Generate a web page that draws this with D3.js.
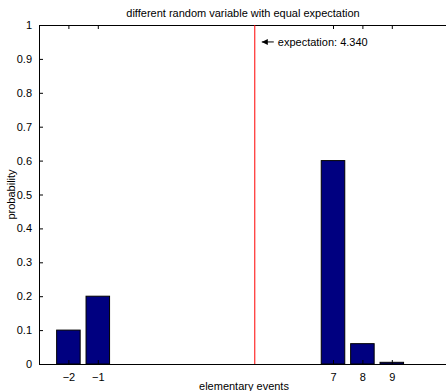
<!DOCTYPE html>
<html>
<head>
<meta charset="utf-8">
<title>different random variable with equal expectation</title>
<style>
  body { margin: 0; background: #fff; }
  text { font-family: "Liberation Sans", Arial, sans-serif; }
</style>
</head>
<body>
<script src="https://cdn.jsdelivr.net/npm/d3@7"></script>
<script>
// data
var events = [-2, -1, 7, 8, 9];
var probs  = [0.1, 0.2, 0.6, 0.06, 0.005];
var yTicks = [0, 0.1, 0.2, 0.3, 0.4, 0.5, 0.6, 0.7, 0.8, 0.9, 1];
var expectation = 4.34;

var margin = {top: 25, left: 39},
    width  = 411.6,
    height = 339;

var svg = d3.select("body").append("svg")
    .attr("width", 446)
    .attr("height", 391);

var chart = svg.append("g")
    .attr("transform", "translate(" + margin.left + "," + margin.top + ")");

var x = d3.scaleLinear().domain([-3, 11]).range([0, width]);
var y = d3.scaleLinear().domain([0, 1]).range([height, 0]);
var barW = x(0.8) - x(0);

// bars
chart.selectAll("rect.bar")
    .data(events)
    .enter().append("rect")
    .attr("class", "bar")
    .attr("x", function(d) { return x(d) - barW / 2; })
    .attr("y", function(d, i) { return y(probs[i]); })
    .attr("width", barW)
    .attr("height", function(d, i) { return height - y(probs[i]); })
    .style("fill", "#000080")
    .style("stroke", "#000")
    .style("stroke-width", "1px");

// axes, matlab style: ticks inward on all four sides
var fmtX = function(d) { return d < 0 ? "\u2212" + Math.abs(d) : d; };

chart.append("g")
    .attr("transform", "translate(0," + height + ")")
    .call(d3.axisBottom(x).tickValues(events).tickSize(-4).tickPadding(9).tickFormat(fmtX));

chart.append("g")
    .call(d3.axisTop(x).tickValues(events).tickSize(-4).tickFormat(""));

chart.append("g")
    .call(d3.axisLeft(y).tickValues(yTicks).tickSize(-4).tickPadding(7)
        .tickFormat(function(d) { return d3.format("")(d); }));

chart.append("g")
    .attr("transform", "translate(" + width + ",0)")
    .call(d3.axisRight(y).tickValues(yTicks).tickSize(-4).tickFormat(""));

chart.selectAll(".domain").style("stroke", "#000");
chart.selectAll(".tick line").style("stroke", "#000");
chart.selectAll(".tick text")
    .style("font-size", "11px")
    .style("fill", "#000");

// expectation line
chart.append("line")
    .attr("x1", x(expectation)).attr("x2", x(expectation))
    .attr("y1", 0).attr("y2", height)
    .style("stroke", "#ff0000")
    .style("stroke-width", "1px");

// annotation arrow + text
var ay = y(0.95);
var ax = x(expectation) + 7;
chart.append("line")
    .attr("x1", ax).attr("x2", ax + 12)
    .attr("y1", ay).attr("y2", ay)
    .style("stroke", "#000");
chart.append("path")
    .attr("d", "M" + ax + "," + ay + "l6,-3l0,6z")
    .style("fill", "#000");
chart.append("text")
    .attr("x", ax + 16)
    .attr("y", ay + 4)
    .style("font-size", "11px")
    .text("expectation: " + d3.format(".3f")(expectation));

// titles
svg.append("text")
    .attr("x", 243)
    .attr("y", 17)
    .attr("text-anchor", "middle")
    .style("font-size", "11px")
    .text("different random variable with equal expectation");

svg.append("text")
    .attr("x", 244)
    .attr("y", 390)
    .attr("text-anchor", "middle")
    .style("font-size", "11px")
    .text("elementary events");

svg.append("text")
    .attr("transform", "translate(15," + (margin.top + height / 2) + ") rotate(-90)")
    .attr("text-anchor", "middle")
    .style("font-size", "11px")
    .text("probability");
</script>
</body>
</html>
